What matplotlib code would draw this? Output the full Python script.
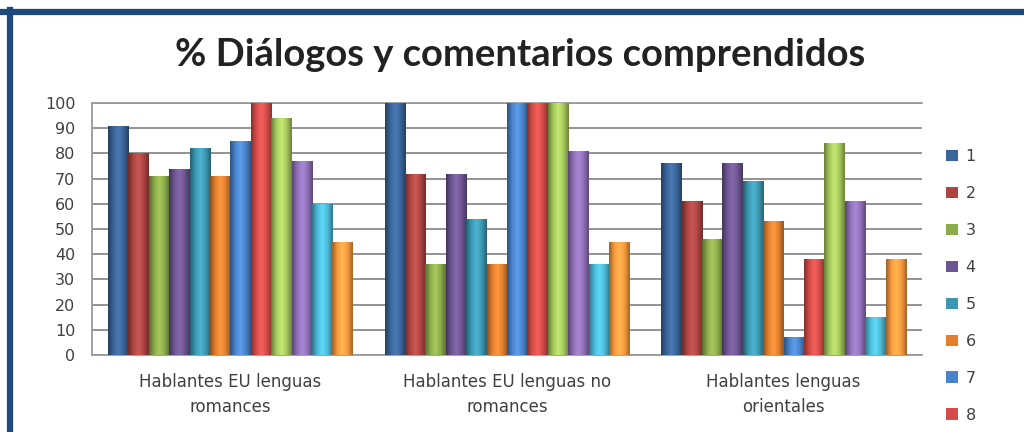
import numpy as np
import matplotlib
matplotlib.use("Agg")
from matplotlib import pyplot as plt
from matplotlib.colors import LinearSegmentedColormap, to_rgb

# categorias y valores (% comprendido) por serie 1..12
grupos = ["Hablantes EU lenguas\nromances",
          "Hablantes EU lenguas no\nromances",
          "Hablantes lenguas\norientales"]
series = [str(i) for i in range(1, 13)]
valores = [
    [91, 100, 76],
    [80, 72, 61],
    [71, 36, 46],
    [74, 72, 76],
    [82, 54, 69],
    [71, 36, 53],
    [85, 100, 7],
    [100, 100, 38],
    [94, 100, 84],
    [77, 81, 61],
    [60, 36, 15],
    [45, 45, 38],
]
colores = ["#3A6499", "#AE4542", "#8CAB4A", "#6D5592", "#3C98B2", "#E2802F",
           "#4A84CC", "#D44C49", "#A6C95C", "#8F70B8", "#4CBAD8", "#F89A3F"]

fig = plt.figure(figsize=(10.24, 4.32), dpi=100)
fig.patch.set_facecolor("white")
ax = fig.add_axes([92/1024, 1-355/432, 830/1024, 252/432])

n = len(series)
hueco = 0.115
ancho = (1 - hueco) / n
x = np.arange(len(grupos))

def sombra(c):
    # degradado horizontal tipo cilindro: oscuro en los bordes, claro cerca del centro
    r = np.array(to_rgb(c))
    osc = r * 0.62
    cla = np.minimum(r * 1.12 + 0.04, 1)
    return LinearSegmentedColormap.from_list("b", [osc, r, cla, r, osc * 1.05])

grad = np.linspace(0, 1, 64).reshape(1, -1)
for i, (s, vals) in enumerate(zip(series, valores)):
    pos = x - 0.5 + hueco / 2 + ancho * (i + 0.5)
    barras = ax.bar(pos, vals, width=ancho, color=colores[i], label=s, zorder=3,
                    linewidth=0)
    cm = sombra(colores[i])
    for b in barras:
        x0, w, h = b.get_x(), b.get_width(), b.get_height()
        im = ax.imshow(grad, cmap=cm, aspect="auto", extent=[x0, x0 + w, 0, h],
                       zorder=4, interpolation="bicubic")
        im.set_clip_path(b)

ax.set_xlim(-0.5, 2.5)
ax.set_ylim(0, 100)
ax.set_yticks(range(0, 101, 10))
ax.yaxis.grid(True, color="#8a8a8a", linewidth=1.3, zorder=1)
ax.set_axisbelow(True)
ax.set_xticks(x)
ax.set_xticklabels(grupos, fontsize=12, color="#404040", linespacing=1.5)
ax.tick_params(axis="x", length=0, pad=13)
ax.tick_params(axis="y", length=0, pad=12, labelsize=11.5, labelcolor="#404040")
for lado in ["left", "top", "bottom"]:
    ax.spines[lado].set_color("#9a9a9a")
    ax.spines[lado].set_linewidth(1.3)
ax.spines["right"].set_visible(False)

# la leyenda solo llega a mostrar las series 1-8
h, l = ax.get_legend_handles_labels()
fig.legend(h[:8], l[:8], loc="upper left", bbox_to_anchor=(932/1024, 1-135/432),
           frameon=False, fontsize=11.5, labelspacing=1.37, handlelength=0.7,
           handleheight=0.7, handletextpad=0.5, labelcolor="#404040")

fig.text(0.508, 1-55/432, "% Diálogos y comentarios comprendidos",
         ha="center", va="center", fontsize=27.5, fontweight="bold",
         family="Lato", color="#222222")

# marco azul superior e izquierdo
fig.add_artist(plt.Line2D([0, 1], [1-12/432, 1-12/432], color="#1F497D",
                          linewidth=4.5, transform=fig.transFigure))
fig.add_artist(plt.Line2D([9.5/1024, 9.5/1024], [0, 1-10/432], color="#1F497D",
                          linewidth=4.5, transform=fig.transFigure))

fig.savefig("out.png", dpi=100)
